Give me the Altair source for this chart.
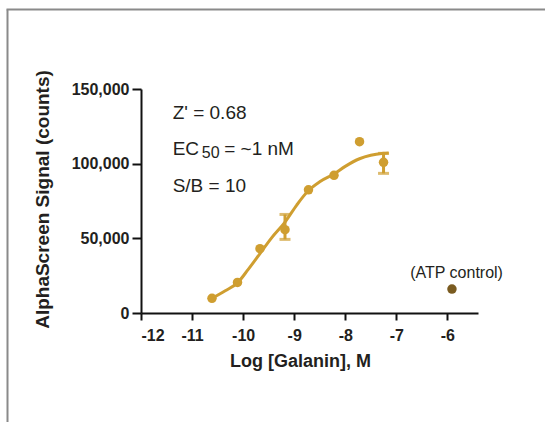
import altair as alt
import pandas as pd

# ---- data ----
log_conc = [-10.61, -10.11, -9.67, -9.18, -8.72, -8.22, -7.72, -7.25]
signal = [9800, 20500, 43100, 55800, 82500, 92200, 114700, 100900]

err_x = [-9.18, -7.25]
err_lo = [49300, 93500]
err_hi = [66000, 106900]

fit_x = [-10.61, -10.35, -10.11, -9.9, -9.67, -9.45, -9.18, -8.95, -8.72,
         -8.5, -8.22, -8.0, -7.72, -7.5, -7.25, -7.15]
fit_y = [9800, 14900, 20200, 29200, 39800, 50000, 60900, 72300, 82000,
         87900, 93100, 98200, 103300, 105600, 106900, 107200]

ctrl_x = [-5.91]
ctrl_y = [16000]

ann_text = ["Z' = 0.68", "EC", "50", "= ~1 nM", "S/B = 10"]
ann_x = [-11.38, -11.38, -10.81, -10.37, -11.38]
ann_y = [130100, 105800, 103500, 105800, 81200]
ann_size = [19, 19, 16, 19, 19]

ctrl_label = ["(ATP control)"]
ctrl_label_x = [-5.82]
ctrl_label_y = [23400]

GOLD = "#CF9E30"
BROWN = "#7A5B20"
FONT = "Liberation Sans"
INK = "#231f20"

pts = pd.DataFrame({"x": log_conc, "y": signal})
errs = pd.DataFrame({"x": err_x, "lo": err_lo, "hi": err_hi})
fit = pd.DataFrame({"x": fit_x, "y": fit_y})
ctrl = pd.DataFrame({"x": ctrl_x, "y": ctrl_y})
ann = pd.DataFrame({"t": ann_text, "x": ann_x, "y": ann_y, "s": ann_size})
clab = pd.DataFrame({"t": ctrl_label, "x": ctrl_label_x, "y": ctrl_label_y})

xscale = alt.Scale(domain=[-12, -5.4], nice=False, zero=False)
yscale = alt.Scale(domain=[0, 150000], nice=False)

xaxis = alt.Axis(values=[-12, -11, -10, -9, -8, -7, -6], labelExpr="'' + datum.value",
                 title="Log [Galanin], M", titleX=159, titleY=53,
                 titleBaseline="alphabetic", titleAnchor="start", titleAlign="center",
                 titleFontSize=18, tickSize=7, labelPadding=7, grid=False)
yaxis = alt.Axis(values=[0, 50000, 100000, 150000], format=",d",
                 title="AlphaScreen Signal (counts)", titleX=-99, titleY=110,
                 titleAngle=-90, titleBaseline="middle", titleAlign="center",
                 titleFontSize=19, tickSize=9, labelPadding=3, grid=False)

X = alt.X("x:Q", scale=xscale, axis=xaxis)
Y = alt.Y("y:Q", scale=yscale, axis=yaxis)

curve = alt.Chart(fit).mark_line(color=GOLD, strokeWidth=3, interpolate="monotone").encode(x=X, y=Y)
dots = alt.Chart(pts).mark_circle(color=GOLD, size=90, opacity=1).encode(x="x:Q", y="y:Q")
bars = alt.Chart(errs).mark_rule(color=GOLD, strokeWidth=3).encode(x="x:Q", y="lo:Q", y2="hi:Q")
cap_lo = alt.Chart(errs).mark_tick(color=GOLD, thickness=3, size=11, orient="horizontal").encode(x="x:Q", y="lo:Q")
cap_hi = alt.Chart(errs).mark_tick(color=GOLD, thickness=3, size=11, orient="horizontal").encode(x="x:Q", y="hi:Q")
ctrl_pt = alt.Chart(ctrl).mark_circle(color=BROWN, size=90, opacity=1).encode(x="x:Q", y="y:Q")

ann_layer = alt.Chart(ann).mark_text(align="left", baseline="alphabetic", font=FONT,
                                     color=INK).encode(
    x="x:Q", y="y:Q", text="t:N", size=alt.Size("s:Q", scale=None, legend=None))
clab_layer = alt.Chart(clab).mark_text(align="center", baseline="alphabetic", font=FONT,
                                       fontSize=16, color=INK).encode(
    x="x:Q", y="y:Q", text="t:N")

frame_data = alt.Data(values=[{}])
frame_left = alt.Chart(frame_data).mark_rule(color="#8a8a8a", strokeWidth=2).encode(
    x=alt.value(-133.5), y=alt.value(-79.5), y2=alt.value(340))
frame_top = alt.Chart(frame_data).mark_rule(color="#8a8a8a", strokeWidth=2).encode(
    x=alt.value(-134.5), x2=alt.value(410), y=alt.value(-79.5))

chart = alt.layer(curve, bars, cap_lo, cap_hi, dots, ctrl_pt, ann_layer, clab_layer,
                  frame_left, frame_top).properties(
    width=337, height=224,
    padding={"left": 141, "top": 89, "right": 67, "bottom": 109},
    autosize=alt.AutoSizeParams(type="none"),
    background="white",
).configure_view(stroke=None).configure_axis(
    labelFont=FONT, labelFontSize=16, labelFontWeight="bold", labelColor=INK,
    titleFont=FONT, titleFontWeight="bold", titleColor=INK,
    domainColor="#111111", domainWidth=2, tickColor="#111111", tickWidth=2,
)

chart.save("out.html", embed_options={"renderer": "svg", "actions": False})
